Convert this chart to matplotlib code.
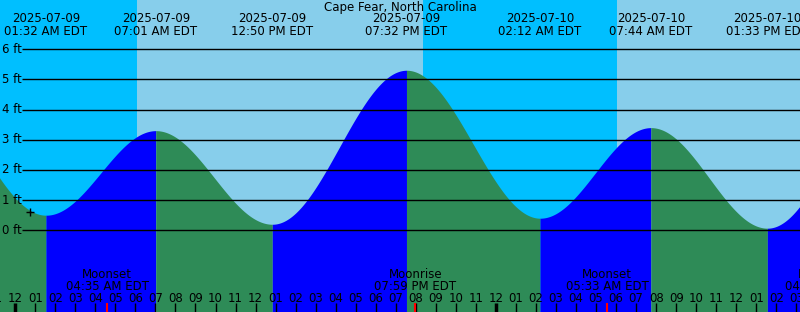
import numpy as np
import pandas as pd
import matplotlib
matplotlib.use("Agg")
import matplotlib.pyplot as plt

plt.rcParams['font.family'] = ['DejaVu Sans']

station = "Cape Fear, North Carolina"

# tide extremes (first and last lie outside the view, they shape the ends)
tide_times = ["2025-07-08 18:52", "2025-07-09 01:32", "2025-07-09 07:01",
              "2025-07-09 12:50", "2025-07-09 19:32", "2025-07-10 02:12",
              "2025-07-10 07:44", "2025-07-10 13:33", "2025-07-10 20:14"]
tide_heights = [5.1, 0.5, 3.3, 0.2, 5.3, 0.4, 3.4, 0.07, 5.3]

sunrises = ["2025-07-09 06:04", "2025-07-10 06:04"]
sunsets = ["2025-07-08 20:23", "2025-07-09 20:22", "2025-07-10 20:21"]

moon_names = ["Moonset", "Moonrise", "Moonset", "Full Moon"]
moon_times = ["2025-07-09 04:35", "2025-07-09 19:59", "2025-07-10 05:33", "2025-07-10 16:28"]

now_time = "2025-07-09 00:44"
now_height = 0.62

y_ticks = [0, 1, 2, 3, 4, 5, 6]

start = pd.Timestamp("2025-07-09 00:00")

def hrs(t):
    return (pd.Timestamp(t) - start) / pd.Timedelta(hours=1)

# view window in pixels
PX_H = 20.03
X0 = -0.76
X1 = X0 + 800 / PX_H
Y0PX = 230.3
PX_FT = 30.2
YB = (Y0PX - 312) / PX_FT
YT = Y0PX / PX_FT

def ypx(p):
    return (Y0PX - p) / PX_FT

th = np.array([hrs(t) for t in tide_times])
hh = np.array(tide_heights)

fig = plt.figure(figsize=(8, 3.12), dpi=100)
ax = fig.add_axes([0, 0, 1, 1])
ax.set_xlim(X0, X1)
ax.set_ylim(YB, YT)
ax.axis('off')

# sky: day / night
ax.axvspan(X0 - 1, X1 + 1, color="#87CEEB", zorder=0)
sr = [hrs(t) for t in sunrises]
ss = [hrs(t) for t in sunsets]
for a, b in zip(ss, sr + [X1 + 5]):
    ax.axvspan(a, b, color="#00BFFF", zorder=1, lw=0)

# tide curve, cosine between extremes
for i in range(len(th) - 1):
    t = np.linspace(th[i], th[i + 1], 200)
    f = (t - th[i]) / (th[i + 1] - th[i])
    h = hh[i] + (hh[i + 1] - hh[i]) * (1 - np.cos(np.pi * f)) / 2
    col = "#0000FF" if hh[i + 1] > hh[i] else "#2E8B57"
    ax.fill_between(t, YB, h, color=col, lw=0, zorder=2)

# grid lines and y labels
gx = X0 + 22 / PX_H
for v in y_ticks:
    ax.hlines(v, gx, X1, color="black", lw=1, zorder=4)
    ax.text(X0 + 2 / PX_H, v, f"{v} ft", ha="left", va="center", fontsize=8.5, zorder=5)

ax.plot(hrs(now_time), now_height, marker="+", color="black", ms=6, mew=1, zorder=5)

# title and tide labels
ax.text((X0 + X1) / 2, ypx(7), station, ha="center", va="center", fontsize=8.5, zorder=5)
for t in tide_times:
    x = hrs(t)
    if X0 - 3 < x < X1 + 3:
        ts = pd.Timestamp(t)
        ax.text(x, ypx(19), ts.strftime("%Y-%m-%d"), ha="center", va="center", fontsize=8.5, zorder=5)
        ax.text(x, ypx(31), ts.strftime("%I:%M %p EDT"), ha="center", va="center", fontsize=8.5, zorder=5)

# hour ticks
for hr in range(int(np.floor(X0)), int(np.ceil(X1)) + 1):
    lab = pd.Timestamp(start + pd.Timedelta(hours=hr)).strftime("%I")
    ax.text(hr, ypx(298), lab, ha="center", va="center", fontsize=8.5, zorder=5)
    lw = 2.5 if hr % 24 == 0 else 1
    ax.vlines(hr, YB, ypx(303), color="black", lw=lw, zorder=5)

# moon events
for name, t in zip(moon_names, moon_times):
    x = hrs(t)
    ts = pd.Timestamp(t)
    ax.vlines(x, YB, ypx(303), color="red", lw=1.5, zorder=6)
    ax.text(x, ypx(274), name, ha="center", va="center", fontsize=8.5, zorder=5)
    ax.text(x, ypx(286), ts.strftime("%I:%M %p EDT"), ha="center", va="center", fontsize=8.5, zorder=5)

fig.savefig("out.png", dpi=100)
